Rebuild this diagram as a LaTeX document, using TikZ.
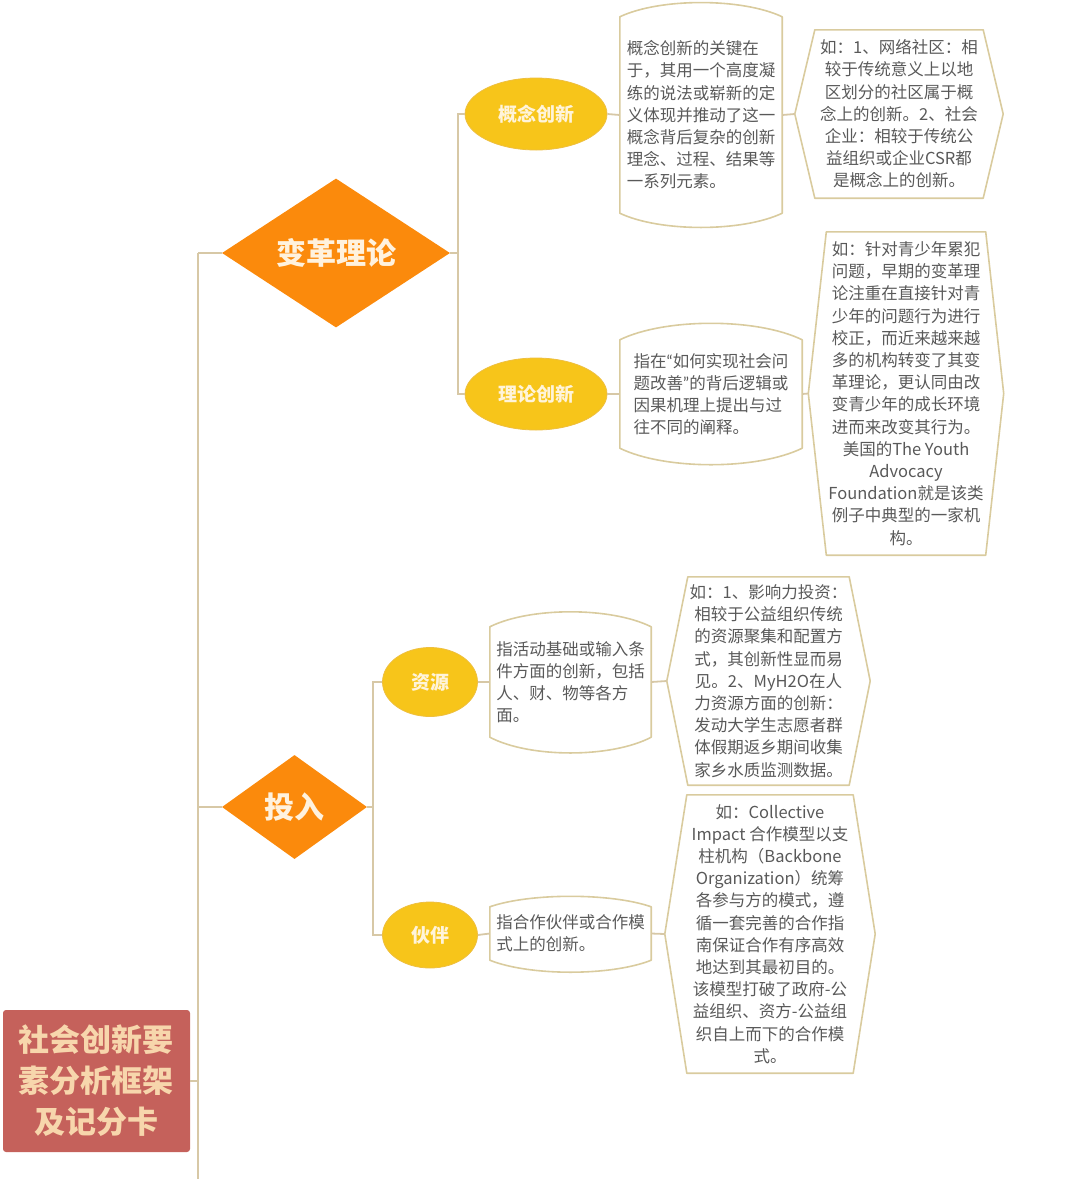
\documentclass[tikz,border=0pt]{standalone}
\usepackage{fontspec}
\setmainfont{Noto Sans CJK SC}
\newfontfamily\latinq{Lato}
\usetikzlibrary{shapes.geometric,calc}
\definecolor{lineC}{HTML}{D7C8A6}
\definecolor{boxC}{HTML}{D9CB9E}
\definecolor{orangeC}{HTML}{FB8A0C}
\definecolor{yellowC}{HTML}{F7C51A}
\definecolor{yellowEdge}{HTML}{EEBF40}
\definecolor{ellTxt}{HTML}{FFF4DA}
\definecolor{diamTxt}{HTML}{FFF2DE}
\definecolor{rootFill}{HTML}{C5615B}
\definecolor{rootTxt}{HTML}{F7D6AC}
\definecolor{bodyC}{HTML}{595959}
\begin{document}
\begin{tikzpicture}[x=1pt,y=-1pt,
  conn/.style={draw=lineC, line width=1.8pt},
  outline/.style={draw=boxC, line width=1.6pt, line join=round},
  diam/.style={diamond, fill=orangeC, inner sep=0pt, text=diamTxt, font=\fontsize{30}{34}\selectfont\bfseries},
  ell/.style={ellipse, fill=yellowC, draw=yellowEdge, line width=0.8pt, inner sep=0pt, text=ellTxt, font=\fontsize{19}{22}\selectfont\bfseries},
  txtbox/.style={rectangle, inner sep=0pt, text=bodyC, font=\fontsize{16.5}{22.2}\selectfont},
  rootbox/.style={rectangle, rounded corners=3pt, fill=rootFill, inner sep=0pt, text=rootTxt, font=\fontsize{31}{41}\selectfont\bfseries, align=center}
]
\useasboundingbox (0,0) rectangle (1080,1179);

% root
\node[rootbox, minimum width=187pt, minimum height=142pt] (root) at (96.5,1081) {社会创新要\\素分析框架\\及记分卡};

% trunk
\coordinate (tr) at (198,253);
\coordinate (trb) at (198,1179);
\draw[conn] (tr) -- (trb);
\draw[conn] (root.east) -- (root.east -| tr);

% level 1 diamonds
\node[diam, minimum width=228pt, minimum height=126pt] (d1) at (336,253) {变革理论};
\node[diam, minimum width=145pt, minimum height=104pt] (d2) at (294.5,807) {投入};
\draw[conn] (tr) -- (d1.west);
\draw[conn] (d2.west -| tr) -- (d2.west);

% level 2 ellipses
\node[ell, minimum width=142pt, minimum height=72pt] (e1) at (536,114) {概念创新};
\node[ell, minimum width=142pt, minimum height=72pt] (e2) at (536,394) {理论创新};
\node[ell, minimum width=95pt, minimum height=69pt] (e3) at (430,682) {资源};
\node[ell, minimum width=95pt, minimum height=66pt] (e4) at (430,935) {伙伴};

\coordinate (b1) at (458,253);
\coordinate (b2) at (373,807);
\draw[conn] (d1.east) -- (b1);
\draw[conn] (e1.west) -| (b1) |- (e2.west);
\draw[conn] (d2.east) -- (b2);
\draw[conn] (e3.west) -| (b2) |- (e4.west);

% definition boxes (arched)
\node[txtbox, minimum width=162pt, minimum height=196pt, align=left] (t1) at (701,115)
 {概念创新的关键在\\于，其用一个高度凝\\练的说法或崭新的定\\义体现并推动了这一\\概念背后复杂的创新\\理念、过程、结果等\\一系列元素。};
\node[txtbox, minimum width=182pt, minimum height=108pt, align=left] (t3) at (711,394)
 {指在{\latinq“}如何实现社会问\\题改善{\latinq”}的背后逻辑或\\因果机理上提出与过\\往不同的阐释。};
\node[txtbox, minimum width=161pt, minimum height=110pt, align=left] (t5) at (570.5,682)
 {指活动基础或输入条\\件方面的创新，包括\\人、财、物等各方\\面。};
\node[txtbox, minimum width=161pt, minimum height=53pt, align=left] (t7) at (570.5,933.5)
 {指合作伙伴或合作模\\式上的创新。};

\draw[outline] (t1.north west) -- (t1.south west)
  .. controls +(40,19) and +(-40,19) .. (t1.south east) -- (t1.north east)
  .. controls +(-40,-19) and +(40,-19) .. (t1.north west) -- cycle;
\draw[outline] (t3.north west) -- (t3.south west)
  .. controls +(45,22) and +(-45,22) .. (t3.south east) -- (t3.north east)
  .. controls +(-45,-22) and +(45,-22) .. (t3.north west) -- cycle;
\draw[outline] (t5.north west) -- (t5.south west)
  .. controls +(40,21) and +(-40,21) .. (t5.south east) -- (t5.north east)
  .. controls +(-40,-20) and +(40,-20) .. (t5.north west) -- cycle;
\draw[outline] (t7.north west) -- (t7.south west)
  .. controls +(40,16) and +(-40,16) .. (t7.south east) -- (t7.north east)
  .. controls +(-40,-14) and +(40,-14) .. (t7.north west) -- cycle;

% example boxes (hexagons)
\node[txtbox, minimum width=208pt, minimum height=168pt, align=center] (h2) at (899,114)
 {如：1、网络社区：相\\较于传统意义上以地\\区划分的社区属于概\\念上的创新。2、社会\\企业：相较于传统公\\益组织或企业CSR都\\是概念上的创新。};
\node[txtbox, minimum width=195pt, minimum height=323pt, align=center] (h4) at (906,393.5)
 {如：针对青少年累犯\\问题，早期的变革理\\论注重在直接针对青\\少年的问题行为进行\\校正，而近来越来越\\多的机构转变了其变\\革理论，更认同由改\\变青少年的成长环境\\进而来改变其行为。\\美国的The Youth\\Advocacy\\Foundation就是该类\\例子中典型的一家机\\构。};
\node[txtbox, minimum width=203pt, minimum height=208pt, align=center] (h6) at (768.5,681)
 {如：1、影响力投资：\\相较于公益组织传统\\的资源聚集和配置方\\式，其创新性显而易\\见。2、MyH2O在人\\力资源方面的创新：\\发动大学生志愿者群\\体假期返乡期间收集\\家乡水质监测数据。};
\node[txtbox, minimum width=210pt, minimum height=278pt, align=center] (h8) at (770,934)
 {如：Collective\\Impact 合作模型以支\\柱机构（Backbone\\Organization）统筹\\各参与方的模式，遵\\循一套完善的合作指\\南保证合作有序高效\\地达到其最初目的。\\该模型打破了政府-公\\益组织、资方-公益组\\织自上而下的合作模\\式。};

\draw[outline] (h2.west) -- ([xshift=20pt]h2.north west) -- ([xshift=-20pt]h2.north east)
  -- (h2.east) -- ([xshift=-20pt]h2.south east) -- ([xshift=20pt]h2.south west) -- cycle;
\draw[outline] (h4.west) -- ([xshift=18pt]h4.north west) -- ([xshift=-18pt]h4.north east)
  -- (h4.east) -- ([xshift=-18pt]h4.south east) -- ([xshift=18pt]h4.south west) -- cycle;
\draw[outline] (h6.west) -- ([xshift=21pt]h6.north west) -- ([xshift=-21pt]h6.north east)
  -- (h6.east) -- ([xshift=-21pt]h6.south east) -- ([xshift=21pt]h6.south west) -- cycle;
\draw[outline] (h8.west) -- ([xshift=22pt]h8.north west) -- ([xshift=-22pt]h8.north east)
  -- (h8.east) -- ([xshift=-22pt]h8.south east) -- ([xshift=22pt]h8.south west) -- cycle;

% connectors between boxes
\draw[conn] (e1.east) -- (t1.west);
\draw[conn] (e2.east) -- (t3.west);
\draw[conn] (e3.east) -- (t5.west);
\draw[conn] (e4.east) -- (t7.west);
\draw[conn] (t1.east) -- (h2.west);
\draw[conn] (t3.east) -- (h4.west);
\draw[conn] (t5.east) -- (h6.west);
\draw[conn] (t7.east) -- (h8.west);
\end{tikzpicture}
\end{document}
